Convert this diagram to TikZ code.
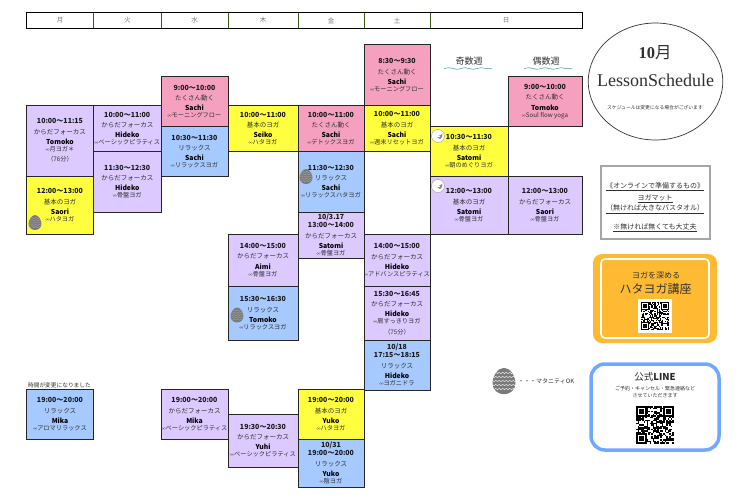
\documentclass[tikz,border=0pt]{standalone}
\usepackage{fontspec}
\setmainfont{Noto Sans CJK JP}
\newfontfamily\titlefont{Liberation Serif}
\newfontfamily\cjkfont{Noto Sans CJK JP}
\usetikzlibrary{shapes.geometric,decorations.pathmorphing}

\definecolor{focusbg}{HTML}{DBC9FF}
\definecolor{basicbg}{HTML}{FFFF40}
\definecolor{activebg}{HTML}{F4A0BE}
\definecolor{relaxbg}{HTML}{A6C9FF}
\definecolor{textgray}{HTML}{303030}
\definecolor{orangebg}{HTML}{FFBA33}
\definecolor{lineblue}{HTML}{70A8FF}
\definecolor{wavecol}{HTML}{3F9A9A}
\definecolor{headrule}{HTML}{3F5A10}

\def\eggpath{(0,-1.15) .. controls (0.55,-1.15) and (1,-0.4) .. (1,0.2)
      .. controls (1,0.8) and (0.5,1.15) .. (0,1.15) .. controls (-0.5,1.15) and (-1,0.8) .. (-1,0.2)
      .. controls (-1,-0.4) and (-0.55,-1.15) .. (0,-1.15) -- cycle}

\tikzset{
  lessonbox/.style={draw=black!85, line width=0.9pt, inner sep=0pt, outer sep=0pt, align=center,
    font=\fontsize{6}{7}\selectfont},
  focus/.style={lessonbox, fill=focusbg},
  basic/.style={lessonbox, fill=basicbg},
  active/.style={lessonbox, fill=activebg},
  relax/.style={lessonbox, fill=relaxbg},
  headcell/.style={draw=black, line width=0.9pt, inner sep=0pt, outer sep=0pt, minimum height=15.5pt,
    font=\fontsize{6.5}{7}\selectfont, text=black!55},
  weeklabel/.style={font=\fontsize{9}{10}\selectfont, text=textgray, inner sep=0pt},
  wavy/.style={draw=wavecol, line width=0.5pt, decorate, decoration={snake, segment length=16pt, amplitude=0.8pt}},
  smalltext/.style={inner sep=0pt, text=textgray},
  notetext/.style={inner sep=0pt, text=textgray, font=\fontsize{7}{8}\selectfont},
  pics/egg/.style={code={
    \fill[black!52] \eggpath;
    \clip \eggpath;
    \foreach \yy in {-0.7,-0.35,0,0.35,0.7}
      \draw[white, opacity=#1, line width=0.35pt, decorate, decoration={zigzag, segment length=3.5pt, amplitude=0.7pt}] (-1.1,\yy) -- (1.1,\yy);
  }},
  pics/talkicon/.style={code={
    \draw[fill=white, draw=black!40, line width=0.4pt] (0,0) circle (6.5);
    \fill[black!45] (-1.5,0.8) -- (2.5,-1) -- (4.5,-2.5) -- (4,1) -- (2,3) -- cycle;
    \fill[white] (-1,0.2) rectangle (2,0.8);
  }}
}

% one lesson: name, style, x0, y0, x1, y1, text
\newcommand{\lesson}[7]{
  \node[#2, minimum width={(#5-#3)*1pt}, minimum height={(#6-#4)*1pt}] (#1) at ({(#3+#5)/2},{(#4+#6)/2}) {#7};
}
\newcommand{\tmfont}{\fontsize{7}{7}\bfseries\selectfont\color{black!90}}
\newcommand{\pgfont}{\fontsize{6.2}{7}\mdseries\selectfont\color{textgray}}
\newcommand{\lessontxt}[4]{%
  \tmfont #1\\[3.5pt]%
  \fontsize{6.5}{7}\mdseries\selectfont\color{textgray}#2\\[3.2pt]%
  \fontsize{6.8}{7}\bfseries\selectfont\color{black}#3\\%
  \pgfont{\fontsize{4}{7}\selectfont ∞}#4}
% fake QR code: x0, y0, size in pt
\newcommand{\qrcode}[3]{
  \pgfmathsetseed{#1}
  \foreach \i in {0,...,24}
    \foreach \j in {0,...,24} {
      \pgfmathrandominteger{\bit}{0}{1}
      \ifnum\bit=1 \fill[black] ({#1+\i*#3/25},{#2+\j*#3/25}) rectangle ++({#3/25},{#3/25}); \fi
    }
  \foreach \cx/\cy in {0/0,18/0,0/18} {
    \fill[white] ({#1+\cx*#3/25},{#2+\cy*#3/25}) rectangle ++({7*#3/25},{7*#3/25});
    \draw[black, line width={#3/25*1pt}] ({#1+(\cx+.5)*#3/25},{#2+(\cy+.5)*#3/25}) rectangle ++({6*#3/25},{6*#3/25});
    \fill[black] ({#1+(\cx+2)*#3/25},{#2+(\cy+2)*#3/25}) rectangle ++({3*#3/25},{3*#3/25});
  }
}

\begin{document}
\begin{tikzpicture}[x=1pt, y=-1pt]
  \useasboundingbox (0,0) rectangle (740,499);

  % day header
  \foreach \dname/\xa/\xb/\dtxt in {mon/26.5/93.5/月, tue/93.5/161/火, wed/161/228/水, thu/228/298/木, fri/298/364/金, sat/364/430/土, sun/430/582/日}
    \node[headcell, minimum width={(\xb-\xa)*1pt}] (\dname) at ({(\xa+\xb)/2},20.5) {\dtxt};
  \foreach \dname in {mon,tue,wed,thu,fri,sat}
    \draw[headrule, line width=0.8pt] (\dname.north east) -- (\dname.south east);

  \node[weeklabel] (oddweek) at (469,61) {奇数週};
  \node[weeklabel] (evenweek) at (546,61) {偶数週};
  \path[wavy] (444,68.5) -- (492,68.5);
  \path[wavy] (524,68.5) -- (572,68.5);

  \lesson{monA}{focus}{26.5}{105}{93.5}{176}{\lessontxt{10:00～11:15}{からだフォーカス}{Tomoko}{月ヨガ＊}\\[3.5pt]\pgfont（76分）}
  \lesson{monB}{basic}{26.5}{176}{93.5}{234}{\lessontxt{12:00～13:00}{基本のヨガ}{Saori}{ハタヨガ}}
  \lesson{monC}{relax}{26.5}{389}{93.5}{439}{\lessontxt{19:00～20:00}{リラックス}{Mika}{アロマリラックス}}
  \lesson{tueA}{focus}{93.5}{105.5}{161}{151.5}{\lessontxt{10:00～11:00}{からだフォーカス}{Hideko}{ベーシックピラティス}}
  \lesson{tueB}{focus}{93.5}{151.5}{161}{212}{\lessontxt{11:30～12:30}{からだフォーカス}{Hideko}{骨盤ヨガ}}
  \lesson{wedA}{active}{161}{76.5}{228}{126.5}{\lessontxt{9:00～10:00}{たくさん動く}{Sachi}{モーニングフロー}}
  \lesson{wedB}{relax}{161}{126.5}{228}{176.5}{\lessontxt{10:30～11:30}{リラックス}{Sachi}{リラックスヨガ}}
  \lesson{wedC}{focus}{161}{389}{228}{439}{\lessontxt{19:00～20:00}{からだフォーカス}{Mika}{ベーシックピラティス}}
  \lesson{thuA}{basic}{228}{105.5}{298}{151.5}{\lessontxt{10:00～11:00}{基本のヨガ}{Seiko}{ハタヨガ}}
  \lesson{thuB}{focus}{228}{234}{298}{286}{\lessontxt{14:00～15:00}{からだフォーカス}{Aimi}{骨盤ヨガ}}
  \lesson{thuC}{relax}{228}{286}{298}{340}{\lessontxt{15:30～16:30}{リラックス}{Tomoko}{リラックスヨガ}}
  \lesson{thuD}{focus}{228}{414}{298}{467}{\lessontxt{19:30～20:30}{からだフォーカス}{Yuhi}{ベーシックピラティス}}
  \lesson{friA}{active}{298}{105.5}{364}{151.5}{\lessontxt{10:00～11:00}{たくさん動く}{Sachi}{デトックスヨガ}}
  \lesson{friB}{relax}{298}{151.5}{364}{212}{\lessontxt{11:30～12:30}{リラックス}{Sachi}{リラックスハタヨガ}}
  \lesson{friC}{focus}{298}{212}{364}{258}{\lessontxt{10/3.17\\[1pt]\tmfont 13:00～14:00}{からだフォーカス}{Satomi}{骨盤ヨガ}}
  \lesson{friD}{basic}{298}{389}{364}{439}{\lessontxt{19:00～20:00}{基本のヨガ}{Yuko}{ハタヨガ}}
  \lesson{friE}{relax}{298}{439}{364}{487}{\lessontxt{10/31\\[1pt]\tmfont 19:00～20:00}{リラックス}{Yuko}{陰ヨガ}}
  \lesson{satA}{active}{364}{44.5}{430}{105.5}{\lessontxt{8:30～9:30}{たくさん動く}{Sachi}{モーニングフロー}}
  \lesson{satB}{basic}{364}{105.5}{430}{151.5}{\lessontxt{10:00～11:00}{基本のヨガ}{Sachi}{週末リセットヨガ}}
  \lesson{satC}{focus}{364}{234}{430}{286}{\lessontxt{14:00～15:00}{からだフォーカス}{Hideko}{アドバンスピラティス}}
  \lesson{satD}{focus}{364}{286}{430}{340}{\lessontxt{15:30～16:45}{からだフォーカス}{Hideko}{肩すっきりヨガ}\\[3.5pt]\pgfont（75分）}
  \lesson{satE}{relax}{364}{340}{430}{390}{\lessontxt{10/18\\[1pt]\tmfont 17:15～18:15}{リラックス}{Hideko}{ヨガニドラ}}
  \lesson{sunA}{basic}{430}{126.5}{508}{176.5}{\lessontxt{10:30～11:30}{基本のヨガ}{Satomi}{朝のめぐりヨガ}}
  \lesson{sunB}{focus}{430}{176.5}{508}{234}{\lessontxt{12:00～13:00}{基本のヨガ}{Satomi}{骨盤ヨガ}}
  \lesson{sunC}{active}{508}{76.5}{582}{126.5}{\lessontxt{9:00～10:00}{たくさん動く}{Tomoko}{Soul flow yoga}}
  \lesson{sunD}{focus}{508}{176.5}{582}{234}{\lessontxt{12:00～13:00}{からだフォーカス}{Saori}{骨盤ヨガ}}

  \node[smalltext, font=\fontsize{5.7}{7}\selectfont] (timenote) at (59.5,385.5) {時間が変更になりました};

  % maternity marks
  \pic[scale=6.5] at (35,222.5) {egg=0.3};
  \pic[scale=6.5] at (306,176.5) {egg=0.3};
  \pic[scale=6.5] at (237,315) {egg=0.3};
  \pic[scale=11.5] at (504,381) {egg=1};
  \node[smalltext, anchor=west, font=\fontsize{6}{7}\selectfont] (legend) at (518,381) {・・・マタニティOK};
  \pic at (438,136) {talkicon};
  \pic at (438,186) {talkicon};

  % title circle
  \node[ellipse, draw=black!80, line width=0.7pt, minimum width=134.5pt, minimum height=117pt, inner sep=0pt] (title) at (655.5,81.5) {};
  \node[font=\titlefont\bfseries\fontsize{16.5}{18}\selectfont, text=textgray, inner sep=0pt] (month) at (655,53) {10{\cjkfont\mdseries 月}};
  \node[font=\titlefont\fontsize{18}{20}\selectfont, text=textgray, inner sep=0pt] (lessontitle) at (655.5,80) {LessonSchedule};
  \node[smalltext, font=\fontsize{4.8}{6}\selectfont] (titlenote) at (655,108) {スケジュールは変更になる場合がございます};

  % things to prepare
  \node[draw=black!35, line width=2.5pt, minimum width=109pt, minimum height=73pt, inner sep=0pt] (prepare) at (655.5,202.5) {};
  \node[notetext] (prepA) at (655,187) {\underline{《オンラインで準備するもの》}};
  \node[notetext] (prepB) at (655,199) {\underline{ヨガマット}};
  \node[notetext] (prepC) at (655,209) {\underline{（無ければ大きなバスタオル）}};
  \node[notetext] (prepD) at (655,228) {\underline{※無ければ無くても大丈夫}};

  % hatha course
  \node[fill=orangebg, rounded corners=9pt, minimum width=124pt, minimum height=89pt, inner sep=0pt] (course) at (655,298.5) {};
  \node[draw=white, line width=1.6pt, rounded corners=4pt, minimum width=108pt, minimum height=79pt, inner sep=0pt] (courseline) at (655,298.5) {};
  \node[inner sep=0pt, text=textgray, font=\fontsize{8}{9}\selectfont] (courseA) at (656,275) {ヨガを深める};
  \node[inner sep=0pt, text=black!80, font=\fontsize{12}{13}\selectfont] (courseB) at (655.5,289) {ハタヨガ講座};
  \fill[white] (638,299) rectangle (672,333);
  \qrcode{641}{302}{28}

  % line account
  \node[draw=lineblue, line width=3.5pt, rounded corners=14pt, minimum width=128pt, minimum height=86pt, inner sep=0pt] (lineacc) at (655,407) {};
  \node[inner sep=0pt, font=\fontsize{9.5}{11}\selectfont, text=black!85] (lineA) at (655,377) {公式{\bfseries LINE}};
  \node[smalltext, font=\fontsize{5}{6}\selectfont] (lineB) at (655,389) {ご予約・キャンセル・緊急連絡など};
  \node[smalltext, font=\fontsize{5}{6}\selectfont] (lineC) at (655,396) {させていただきます};
  \qrcode{636}{406}{38}
\end{tikzpicture}
\end{document}
